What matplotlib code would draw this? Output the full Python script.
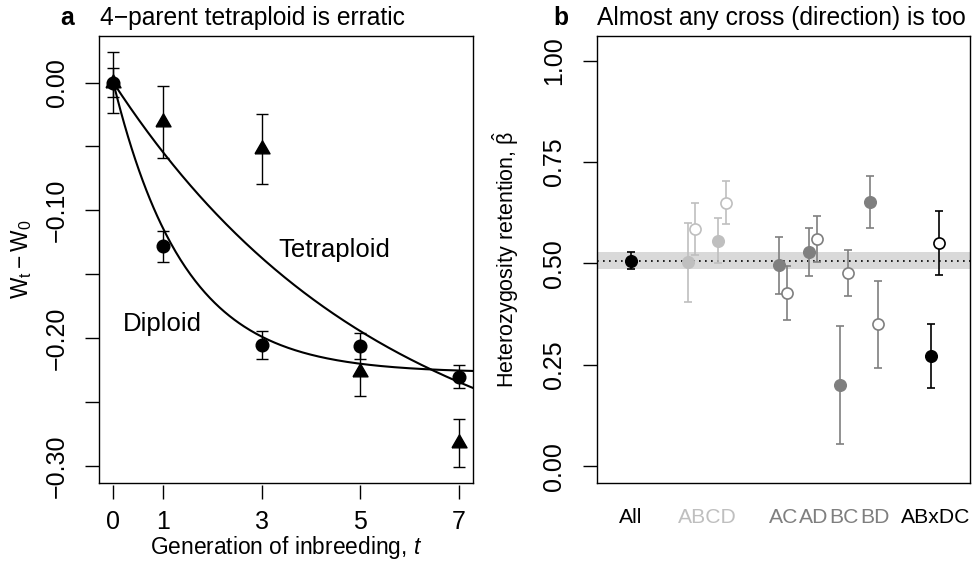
import numpy as np
import matplotlib
matplotlib.use("Agg")
import matplotlib.pyplot as plt

plt.rcParams['font.family'] = ['Liberation Sans', 'DejaVu Sans']
plt.rcParams['mathtext.fontset'] = 'custom'
plt.rcParams['mathtext.rm'] = 'Liberation Sans'
plt.rcParams['mathtext.it'] = 'Liberation Sans:italic'
plt.rcParams['mathtext.bf'] = 'Liberation Sans:bold'

# panel a: change in fitness over generations of inbreeding
gens = [0, 1, 3, 5, 7]
dip_mean = [0.000, -0.128, -0.205, -0.206, -0.230]
dip_se = [0.011, 0.012, 0.011, 0.0105, 0.0092]
tet_mean = [0.000, -0.031, -0.052, -0.226, -0.282]
tet_se = [0.0236, 0.028, 0.0274, 0.019, 0.019]

# fitted decay curves, W_t - W_0 = a * (1 - r^t)
dip_fit = (-0.227, 1 / 2)
tet_fit = (-0.325, 5 / 6)

# panel b: heterozygosity retention per cross
cross_labels = ['All', 'ABCD', 'AC', 'AD', 'BC', 'BD', 'ABxDC']
label_pos = [0, 2.5, 5, 6, 7, 8, 10]
label_cols = ['black', '#BFBFBF', '#7F7F7F', '#7F7F7F', '#7F7F7F', '#7F7F7F', 'black']

all_beta = 0.507
all_se = 0.020
slot = [2, 3, 5, 6, 7, 8, 10]
slot_cols = ['#BFBFBF', '#BFBFBF', '#7F7F7F', '#7F7F7F', '#7F7F7F', '#7F7F7F', 'black']
beta_one = [0.503, 0.556, 0.495, 0.528, 0.200, 0.651, 0.272]
se_one = [0.097, 0.056, 0.070, 0.059, 0.145, 0.064, 0.079]
beta_rev = [0.585, 0.650, 0.427, 0.561, 0.477, 0.350, 0.550]
se_rev = [0.064, 0.053, 0.067, 0.057, 0.057, 0.107, 0.079]

W, H = 973, 565
fig = plt.figure(figsize=(W / 100, H / 100), dpi=100)
ax1 = fig.add_axes([0.1021, 0.1455, 0.3838, 0.791])
ax2 = fig.add_axes([0.6133, 0.1455, 0.3837, 0.791])

# triangle centred on its centroid (like R's pch 17)
tri = [(-1, -0.577), (1, -0.577), (0, 1.155), (-1, -0.577)]

# ---- panel a ----
tt = np.linspace(0, 7.4, 300)
for a, r in (dip_fit, tet_fit):
    ax1.plot(tt, a * (1 - r ** tt), color='black', lw=1.5, zorder=2)

ax1.errorbar(gens, dip_mean, yerr=dip_se, fmt='none', ecolor='black',
             elinewidth=1, capsize=4, capthick=1, zorder=3)
ax1.plot(gens, dip_mean, ls='none', marker='o', ms=9.1, color='black', zorder=4)
ax1.errorbar(gens, tet_mean, yerr=tet_se, fmt='none', ecolor='black',
             elinewidth=1, capsize=4, capthick=1, zorder=3)
ax1.plot(gens, tet_mean, ls='none', marker=tri, ms=12.5, color='black', zorder=5)

ax1.text(3.334, -0.131, 'Tetraploid', fontsize=18.5, va='center', ha='left')
ax1.text(0.196, -0.189, 'Diploid', fontsize=18.5, va='center', ha='left')

ax1.set_xlim(-0.283, 7.277)
ax1.set_ylim(-0.313, 0.0365)
yt = [-0.30, -0.25, -0.20, -0.15, -0.10, -0.05, 0.0]
ax1.set_yticks(yt)
ax1.set_yticklabels(['\u22120.30', '', '\u22120.20', '', '\u22120.10', '', '0.00'],
                    rotation=90, va='center')
ax1.tick_params(axis='y', length=10, width=1, labelsize=18, pad=12)
ax1.set_xticks([])

# x axis sits just below the box
sec = ax1.secondary_xaxis(-0.005)
sec.set_xticks(gens)
sec.spines['bottom'].set_visible(False)
sec.tick_params(length=10, width=1, labelsize=18, pad=8)

# ---- panel b ----
ax2.axhspan(all_beta - all_se, all_beta + all_se, color='#D9D9D9', lw=0, zorder=0)
ax2.axhline(all_beta, color='black', lw=1.2, ls=(0, (1, 2.6)), zorder=1)

ax2.errorbar([0], [all_beta], yerr=[all_se], fmt='o', color='black', ms=8.4,
             elinewidth=1.2, capsize=3.2, capthick=1.2, zorder=3)
for s, c, b1, e1, b2, e2 in zip(slot, slot_cols, beta_one, se_one, beta_rev, se_rev):
    ax2.errorbar([s - 0.14], [b1], yerr=[e1], fmt='o', color=c, ms=8.4,
                 elinewidth=1.2, capsize=3.2, capthick=1.2, zorder=3)
    ax2.errorbar([s + 0.12], [b2], yerr=[e2], fmt='o', color=c, ms=8,
                 mfc='white', mec=c, mew=1.2,
                 elinewidth=1.2, capsize=3.2, capthick=1.2, zorder=3)

ax2.set_xlim(-1.12, 11.13)
ax2.set_ylim(-0.0408, 1.0608)
ax2.set_yticks([0, 0.25, 0.5, 0.75, 1.0])
ax2.set_yticklabels(['0.00', '0.25', '0.50', '0.75', '1.00'], rotation=90, va='center')
ax2.tick_params(axis='y', length=10, width=1, labelsize=18, pad=12)
ax2.set_xticks(label_pos)
ax2.set_xticklabels(cross_labels)
ax2.tick_params(axis='x', length=0, labelsize=15.2, pad=18)
for lab, c in zip(ax2.get_xticklabels(), label_cols):
    lab.set_color(c)

for ax in (ax1, ax2):
    for sp in ax.spines.values():
        sp.set_linewidth(1)

# titles and axis labels
fig.text(60 / W, 1 - 25 / H, 'a', fontsize=17.7, fontweight='bold', va='baseline')
fig.text(100 / W, 1 - 25 / H, '4\u2212parent tetraploid is erratic', fontsize=17.7, va='baseline')
fig.text(553 / W, 1 - 25 / H, 'b', fontsize=17.7, fontweight='bold', va='baseline')
fig.text(597 / W, 1 - 25 / H, 'Almost any cross (direction) is too', fontsize=17.7, va='baseline')

fig.text(286 / W, 1 - 554 / H, r'Generation of inbreeding, $\mathit{t}$',
         fontsize=16.4, ha='center', va='baseline')
fig.text(22 / W, 1 - 259 / H, r'$\mathregular{W_t - W_0}$', fontsize=16.4,
         rotation=90, ha='center', va='center')
fig.text(506 / W, 1 - 259 / H, r'Heterozygosity retention, $\hat{\mathrm{\beta}}$',
         fontsize=15.5, rotation=90, ha='center', va='center')

fig.savefig('out.png', dpi=100)
